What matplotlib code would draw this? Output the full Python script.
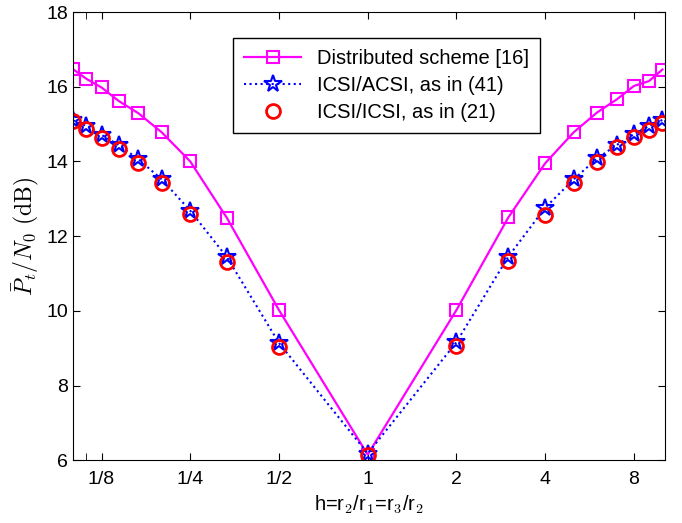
import numpy as np
import matplotlib
matplotlib.use("Agg")
import matplotlib.pyplot as plt
from matplotlib.ticker import FixedLocator, NullFormatter

plt.rcParams["font.family"] = ["Liberation Sans", "DejaVu Sans"]
plt.rcParams["mathtext.fontset"] = "cm"

# data
h = [1/10, 1/9, 1/8, 1/7, 1/6, 1/5, 1/4, 1/3, 1/2, 1,
     2, 3, 4, 5, 6, 7, 8, 9, 10]
dist = [16.47, 16.21, 15.98, 15.62, 15.29, 14.78, 14.0, 12.48, 10.02, 6.15,
        10.02, 12.5, 13.95, 14.78, 15.31, 15.66, 16.02, 16.15, 16.46]
icsi_acsi = [15.1, 14.95, 14.71, 14.44, 14.06, 13.52, 12.68, 11.43, 9.14, 6.18,
             9.16, 11.45, 12.76, 13.52, 14.08, 14.44, 14.73, 14.95, 15.11]
icsi_icsi = [15.08, 14.86, 14.62, 14.33, 13.95, 13.41, 12.58, 11.31, 9.03, 6.13,
             9.06, 11.34, 12.57, 13.41, 13.98, 14.38, 14.65, 14.84, 15.04]

xticks = [1/8, 1/4, 1/2, 1, 2, 4, 8]
xticklabels = ["1/8", "1/4", "1/2", "1", "2", "4", "8"]

fig = plt.figure(figsize=(6.82, 5.23), dpi=100)
ax = fig.add_axes([0.107, 0.12, 0.868, 0.857])

ax.plot(h, dist, "-s", color="#ff00ff", lw=1.6, ms=9, mfc="none", mew=1.5,
        label="Distributed scheme [16]")
ax.plot(h, icsi_acsi, ":*", color="#0000ff", lw=1.5, ms=13, mfc="none", mew=1.5,
        label="ICSI/ACSI, as in (41)")
ax.plot(h, icsi_icsi, "o", color="#ff0000", ms=10, mfc="none", mew=2,
        label="ICSI/ICSI, as in (21)")

ax.set_xscale("log")
ax.set_xlim(0.1, 10.2)
ax.set_ylim(6, 18)
ax.set_xticks(xticks)
ax.set_xticklabels(xticklabels)
ax.xaxis.set_minor_locator(FixedLocator([1/9]))
ax.xaxis.set_minor_formatter(NullFormatter())
ax.set_yticks(np.arange(6, 19, 2))
ax.tick_params(which="both", direction="in", top=True, right=True,
               labelsize=14, length=5)
ax.tick_params(axis="x", pad=8)

ax.set_xlabel("h=r$_2$/r$_1$=r$_3$/r$_2$", fontsize=14.5)
ax.set_ylabel(r"$\bar{P}_t/N_0\ \mathrm{(dB)}$", fontsize=17)

leg = ax.legend(loc="upper center", bbox_to_anchor=(0.53, 0.965), fontsize=14.5,
                fancybox=False, edgecolor="black", framealpha=1,
                handlelength=2.8, borderpad=0.55, labelspacing=0.4)
leg.get_frame().set_linewidth(1.0)

fig.savefig("out.png", dpi=100)
